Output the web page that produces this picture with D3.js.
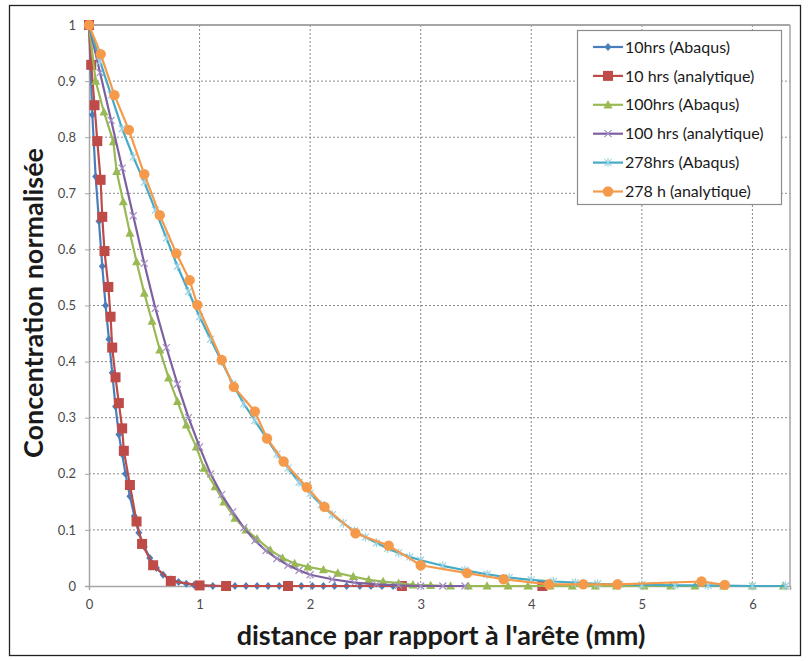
<!DOCTYPE html>
<html><head><meta charset="utf-8">
<script src="https://cdn.jsdelivr.net/npm/d3@7"></script>
<style>body{margin:0;background:#fff;}svg{display:block;}</style>
</head><body>
<svg id="chart" width="809" height="661"></svg>
<script>
// ---- data ----
const seriesNames = ["10hrs (Abaqus)", "10 hrs (analytique)", "100hrs (Abaqus)", "100 hrs (analytique)", "278hrs (Abaqus)", "278 h (analytique)"];
const xTicks = [0, 1, 2, 3, 4, 5, 6];
const yTicks = [0, 0.1, 0.2, 0.3, 0.4, 0.5, 0.6, 0.7, 0.8, 0.9, 1];
const yTickLabels = ["0", "0.1", "0.2", "0.3", "0.4", "0.5", "0.6", "0.7", "0.8", "0.9", "1"];

const blueX = [0, 0.03, 0.06, 0.09, 0.12, 0.15, 0.18, 0.21, 0.24, 0.27, 0.30, 0.33, 0.37, 0.41, 0.45, 0.50, 0.55, 0.61, 0.67, 0.74, 0.81, 0.88, 0.95, 1.02, 1.12, 1.22, 1.32, 1.42, 1.52, 1.62, 1.72, 1.82, 1.92, 2.02, 2.12, 2.22, 2.33, 2.45, 2.55, 2.65, 2.75];
const blueY = [1, 0.84, 0.73, 0.65, 0.57, 0.50, 0.44, 0.38, 0.32, 0.27, 0.235, 0.20, 0.16, 0.125, 0.095, 0.07, 0.05, 0.032, 0.02, 0.012, 0.007, 0.004, 0.002, 0.001, 0, 0, 0, 0, 0, 0, 0, 0, 0, 0, 0, 0, 0, 0, 0, 0, 0];

const redX = [0, 0.02, 0.05, 0.075, 0.105, 0.12, 0.14, 0.175, 0.195, 0.21, 0.24, 0.27, 0.30, 0.315, 0.37, 0.43, 0.48, 0.58, 0.74, 1.0, 1.24, 1.8, 2.83, 4.1];
const redY = [1, 0.929, 0.857, 0.793, 0.724, 0.658, 0.597, 0.533, 0.48, 0.425, 0.372, 0.326, 0.281, 0.241, 0.180, 0.115, 0.075, 0.037, 0.009, 0.001, 0, 0, 0, 0];

const greenX = [0, 0.06, 0.135, 0.22, 0.25, 0.31, 0.37, 0.43, 0.5, 0.57, 0.64, 0.72, 0.80, 0.88, 0.97, 1.04, 1.14, 1.22, 1.32, 1.42, 1.52, 1.64, 1.75, 1.86, 1.98, 2.12, 2.25, 2.39, 2.53, 2.66, 2.80, 2.93, 3.09, 3.27, 3.43, 3.60, 3.79, 3.97, 4.17, 4.37, 4.58, 4.77, 5.02, 5.26, 5.48, 5.74, 6.0, 6.28];
const greenY = [1, 0.90, 0.845, 0.792, 0.739, 0.685, 0.629, 0.578, 0.522, 0.472, 0.421, 0.371, 0.329, 0.287, 0.248, 0.21, 0.177, 0.150, 0.121, 0.100, 0.084, 0.064, 0.05, 0.04, 0.034, 0.029, 0.023, 0.017, 0.011, 0.008, 0.005, 0.002, 0.001, 0, 0, 0, 0, 0, 0, 0, 0, 0, 0, 0, 0, 0, 0, 0];

const purpleX = [0, 0.1, 0.2, 0.3, 0.4, 0.5, 0.6, 0.7, 0.8, 0.9, 1.0, 1.1, 1.2, 1.3, 1.4, 1.5, 1.6, 1.7, 1.8, 1.9, 2.0, 2.2, 2.4, 2.6, 2.8, 3.0, 3.2, 3.4];
const purpleY = [1, 0.915, 0.83, 0.745, 0.66, 0.575, 0.495, 0.425, 0.36, 0.30, 0.248, 0.20, 0.163, 0.132, 0.104, 0.081, 0.063, 0.049, 0.037, 0.028, 0.02, 0.012, 0.006, 0.003, 0.001, 0, 0, 0];

const cyanX = [0, 0.1, 0.2, 0.3, 0.4, 0.5, 0.6, 0.7, 0.8, 0.9, 1.0, 1.1, 1.2, 1.3, 1.4, 1.5, 1.6, 1.7, 1.8, 1.9, 2.0, 2.1, 2.2, 2.3, 2.4, 2.5, 2.6, 2.7, 2.8, 2.9, 3.0, 3.2, 3.4, 3.6, 3.8, 4.0, 4.2, 4.4, 4.6, 4.8, 5.0, 5.3, 5.6, 6.0, 6.3];
const cyanY = [1, 0.935, 0.875, 0.815, 0.765, 0.72, 0.67, 0.62, 0.57, 0.525, 0.48, 0.44, 0.40, 0.36, 0.325, 0.295, 0.265, 0.235, 0.21, 0.185, 0.165, 0.145, 0.127, 0.112, 0.098, 0.087, 0.077, 0.067, 0.059, 0.052, 0.046, 0.036, 0.028, 0.021, 0.015, 0.011, 0.008, 0.006, 0.004, 0.003, 0.002, 0.001, 0.001, 0, 0];

const orangeX = [0, 0.106, 0.23, 0.36, 0.50, 0.64, 0.79, 0.91, 0.98, 1.20, 1.31, 1.50, 1.61, 1.76, 1.97, 2.13, 2.41, 2.71, 3.0, 3.42, 3.75, 4.16, 4.47, 4.78, 5.54, 5.75];
const orangeY = [1, 0.948, 0.875, 0.813, 0.734, 0.661, 0.593, 0.545, 0.501, 0.403, 0.355, 0.311, 0.263, 0.222, 0.176, 0.141, 0.094, 0.072, 0.037, 0.023, 0.012, 0.003, 0.003, 0.003, 0.008, 0.002];

const colors = ["#4A7EBB", "#BE4B48", "#98B954", "#7D60A0", "#46AAC5", "#F59A4B"];
const markerColors = ["#4A7EBB", "#BE4B48", "#98B954", "#A58FC4", "#9CD3E2", "#F59A4B"];
const markers = ["diamond", "square", "triangle", "times", "asterisk", "circle"];

const xs = [blueX, redX, greenX, purpleX, cyanX, orangeX];
const ys = [blueY, redY, greenY, purpleY, cyanY, orangeY];
const series = seriesNames.map((n, i) => ({name: n, color: colors[i], mcolor: markerColors[i], marker: markers[i],
  pts: xs[i].map((x, j) => [x, ys[i][j]])}));

// ---- layout ----
const svg = d3.select("#chart");
const L = 89, T = 25, R = 790, B = 586;
const x = d3.scaleLinear().domain([0, 6.34]).range([L, R]);
const y = d3.scaleLinear().domain([0, 1]).range([B, T]);
const FONT = "Lato, 'Open Sans', sans-serif";

svg.append("rect").attr("x", 9.5).attr("y", 5.5).attr("width", 791).attr("height", 650)
  .attr("fill", "#fff").attr("stroke", "#222").attr("stroke-width", 1.3);

// grid
const g = svg.append("g");
g.selectAll(".vg").data(xTicks.filter(d => d > 0)).join("line")
  .attr("x1", d => x(d)).attr("x2", d => x(d)).attr("y1", T).attr("y2", B)
  .attr("stroke", "#8a8a8a").attr("stroke-width", 1).attr("stroke-dasharray", "2,2");
g.selectAll(".hg").data(yTicks.filter(d => d > 0 && d < 1)).join("line")
  .attr("x1", L).attr("x2", R).attr("y1", d => y(d)).attr("y2", d => y(d))
  .attr("stroke", "#8a8a8a").attr("stroke-width", 1).attr("stroke-dasharray", "2,2");

// plot border
svg.append("line").attr("x1", L).attr("x2", R).attr("y1", T).attr("y2", T).attr("stroke", "#a6a6a6").attr("stroke-width", 2);
svg.append("line").attr("x1", R).attr("x2", R).attr("y1", T).attr("y2", B).attr("stroke", "#a6a6a6").attr("stroke-width", 1.5);

// axes
const xAxis = d3.axisBottom(x).tickValues(xTicks).tickSize(4).tickFormat(d3.format("d"));
const yAxis = d3.axisLeft(y).tickValues(yTicks).tickSize(4).tickFormat((d, i) => yTickLabels[i]);
const gx = svg.append("g").attr("transform", `translate(0,${B})`).call(xAxis);
const gy = svg.append("g").attr("transform", `translate(${L},0)`).call(yAxis);
[gx, gy].forEach(a => {
  a.select(".domain").attr("stroke", "#a6a6a6").attr("stroke-width", 1.5);
  a.selectAll(".tick line").attr("stroke", "#a6a6a6");
  a.selectAll(".tick text").attr("fill", "#4a4a4a").attr("font-family", FONT).attr("font-size", 13);
});
gx.selectAll(".tick text").attr("dy", "1.2em");
gy.selectAll(".tick text").attr("dx", "-6");

// titles
svg.append("text").attr("x", 441).attr("y", 645).attr("text-anchor", "middle")
  .attr("font-family", FONT).attr("font-weight", "bold").attr("font-size", 27).attr("fill", "#1a1a1a")
  .text("distance par rapport à l'arête (mm)");
svg.append("text").attr("transform", `translate(43,303) rotate(-90)`).attr("text-anchor", "middle")
  .attr("font-family", FONT).attr("font-weight", "bold").attr("font-size", 27).attr("fill", "#1a1a1a")
  .text("Concentration normalisée");

// markers
function drawMarker(sel, type, col, cx, cy) {
  const s = sel.append("g").attr("transform", `translate(${cx},${cy})`);
  if (type === "diamond") s.append("path").attr("d", "M0,-4L3.5,0L0,4L-3.5,0Z").attr("fill", col);
  else if (type === "square") s.append("rect").attr("x", -5).attr("y", -5).attr("width", 10).attr("height", 10).attr("fill", col);
  else if (type === "triangle") s.append("path").attr("d", "M0,-4.8L4.5,3.6L-4.5,3.6Z").attr("fill", col);
  else if (type === "circle") s.append("circle").attr("r", 5.2).attr("fill", col);
  else if (type === "times") s.append("path").attr("d", "M-3.5,-3.5L3.5,3.5M-3.5,3.5L3.5,-3.5").attr("stroke", col).attr("stroke-width", 1.2);
  else if (type === "asterisk") s.append("path").attr("d", "M-3.5,-3.5L3.5,3.5M-3.5,3.5L3.5,-3.5M0,-4.5L0,4.5").attr("stroke", col).attr("stroke-width", 1.2);
}

const line = d3.line().x(d => x(d[0])).y(d => y(d[1]));
const plot = svg.append("g");
series.forEach(s => {
  const sg = plot.append("g");
  sg.append("path").datum(s.pts).attr("d", line).attr("fill", "none").attr("stroke", s.color).attr("stroke-width", 2.2).attr("stroke-linejoin", "round");
  s.pts.forEach(p => drawMarker(sg, s.marker, s.mcolor, x(p[0]), y(p[1])));
});

// legend
const lg = svg.append("g");
lg.append("rect").attr("x", 577.5).attr("y", 30.5).attr("width", 204).attr("height", 174)
  .attr("fill", "#fff").attr("stroke", "#8c8c8c").attr("stroke-width", 1.2);
series.forEach((s, i) => {
  const ly = 47 + i * 28.9;
  lg.append("line").attr("x1", 593).attr("x2", 623).attr("y1", ly).attr("y2", ly).attr("stroke", s.color).attr("stroke-width", 2.2);
  drawMarker(lg, s.marker, s.mcolor, 608, ly);
  lg.append("text").attr("x", 625).attr("y", ly).attr("dy", "0.35em")
    .attr("font-family", FONT).attr("font-size", 16).attr("fill", "#1a1a1a").text(s.name);
});
</script>
</body></html>
